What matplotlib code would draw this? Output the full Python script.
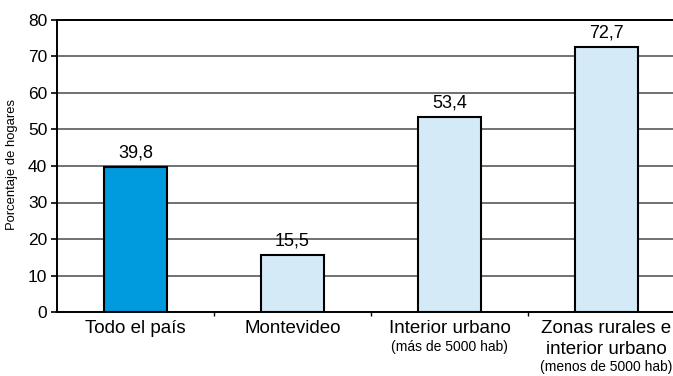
import matplotlib
matplotlib.use("Agg")
import matplotlib.pyplot as plt
from matplotlib.transforms import blended_transform_factory

categories = ["Todo el país", "Montevideo", "Interior urbano", "Zonas rurales e\ninterior urbano"]
subtitles = ["", "", "(más de 5000 hab)", "(menos de 5000 hab)"]
values = [39.8, 15.5, 53.4, 72.7]
value_labels = ["39,8", "15,5", "53,4", "72,7"]
colors = ["#009ADE", "#D5EAF7", "#D5EAF7", "#D5EAF7"]
yticks = [0, 10, 20, 30, 40, 50, 60, 70, 80]

plt.rcParams['font.family'] = ['Liberation Sans', 'DejaVu Sans']

W, H = 673, 376
fig = plt.figure(figsize=(W / 100, H / 100), dpi=100)
ax = fig.add_axes([57 / W, 1 - 312 / H, (685 - 57) / W, (312 - 20) / H])

x = list(range(len(categories)))
ax.bar(x, values, width=0.4, color=colors, edgecolor="black", linewidth=1.5, zorder=3)

ax.set_xlim(-0.5, 3.5)
ax.set_ylim(0, 80)
ax.set_yticks(yticks)
ax.set_yticklabels([str(t) for t in yticks], fontsize=12.5)
ax.yaxis.grid(True, color="#4a4a4a", linewidth=1.1, zorder=0)
ax.set_axisbelow(True)

for s in ["left", "bottom", "top"]:
    ax.spines[s].set_linewidth(1.4)
    ax.spines[s].set_color("black")
ax.spines["right"].set_visible(False)

ax.tick_params(axis="y", direction="out", length=4, width=1.2, pad=3)
ax.set_xticks([0.5, 1.5, 2.5])
ax.set_xticklabels([])
ax.tick_params(axis="x", direction="out", length=3, width=1.0)

for xi, v, lbl in zip(x, values, value_labels):
    ax.text(xi, v + 1.5, lbl, ha="center", va="bottom", fontsize=13)

tr = blended_transform_factory(ax.transData, fig.transFigure)
for xi, cat, sub in zip(x, categories, subtitles):
    ax.text(xi, 1 - 320 / H, cat, ha="center", va="top", fontsize=13.5,
            linespacing=1.3, transform=tr)
    if sub:
        nlines = cat.count("\n") + 1
        ytop = 340 / H if nlines == 1 else 360 / H
        ax.text(xi, 1 - ytop, sub, ha="center", va="top", fontsize=10, transform=tr)

fig.text(12 / W, 1 - 164 / H, "Porcentaje de hogares", rotation=90,
         ha="center", va="center", fontsize=9.4)

fig.savefig("out.png", dpi=100)
